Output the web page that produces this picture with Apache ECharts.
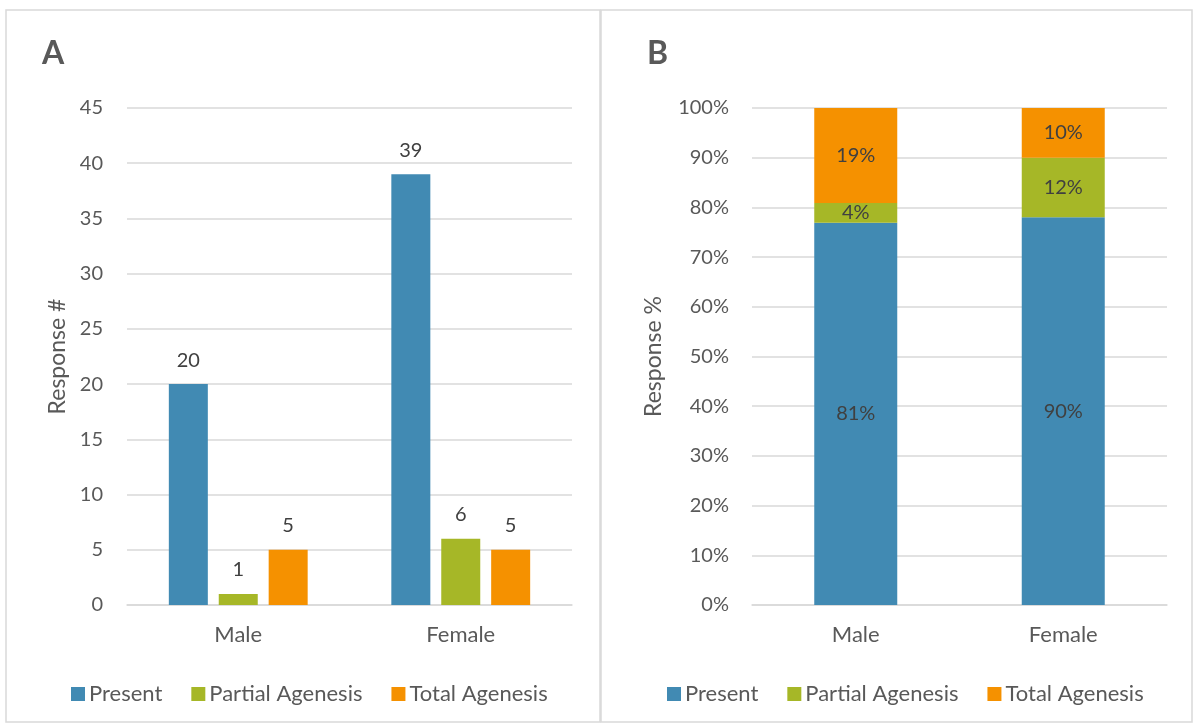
<!DOCTYPE html>
<html><head><meta charset="utf-8">
<script src="https://cdn.jsdelivr.net/npm/echarts@6/dist/echarts.min.js"></script>
<style>html,body{margin:0;padding:0;background:#fff}#c{width:1195px;height:726px}</style>
</head><body><div id="c"></div>
<script>
const categories = ['Male', 'Female'];
const seriesNames = ['Present', 'Partial Agenesis', 'Total Agenesis'];
const countPresent = [20, 39];
const countPartial = [1, 6];
const countTotal = [5, 5];
const pctPresent = [76.9, 78];
const pctPartial = [4.0, 12];
const pctTotal = [19.1, 10];
const pctLabelPresent = ['81%', '90%'];
const pctLabelPartial = ['4%', '12%'];
const pctLabelTotal = ['19%', '10%'];
const colors = ['#418AB3', '#A6B727', '#F59100'];
const FONT = 'Lato';
const TXT = '#595959';

const chart = echarts.init(document.getElementById('c'));
const axisLbl = {color: TXT, fontFamily: FONT, fontSize: 20};
function xAx(gi){return {type:'category', gridIndex:gi, data:categories,
  axisLine:{lineStyle:{color:'#D9D9D9', width:1.5}}, axisTick:{show:false},
  axisLabel:{margin:19, fontSize:22, color:TXT, fontFamily:FONT}};}
const countArr = [countPresent, countPartial, countTotal];
const pctArr = [pctPresent, pctPartial, pctTotal];
const pctLbl = [pctLabelPresent, pctLabelPartial, pctLabelTotal];
const series = [];
seriesNames.forEach((n,i)=>{
  series.push({name:n, type:'bar', xAxisIndex:0, yAxisIndex:0, data:countArr[i],
    barWidth:39, barGap:'28%', itemStyle:{color:colors[i]},
    label:{show:true, position:'top', distance:14, color:'#404040', fontFamily:FONT, fontSize:20}});
});
seriesNames.forEach((n,i)=>{
  series.push({name:n, type:'bar', xAxisIndex:1, yAxisIndex:1, data:pctArr[i], stack:'p',
    barWidth:83, itemStyle:{color:colors[i]},
    label:{show:true, position:'inside', color:'#404040', fontFamily:FONT, fontSize:20,
      formatter:p=>pctLbl[i][p.dataIndex]}});
});
const legendBase = {itemWidth:14, itemHeight:14, itemGap:29, icon:'rect', data:seriesNames,
  textStyle:{color:TXT, fontFamily:FONT, fontSize:22, padding:[0,0,0,-1]}, selectedMode:false};
chart.setOption({
  animation:false,
  textStyle:{fontFamily:FONT},
  title:[
    {text:'A', left:37, top:33, textStyle:{fontFamily:FONT, fontSize:32, fontWeight:'bold', color:TXT}},
    {text:'B', left:642, top:33, textStyle:{fontFamily:FONT, fontSize:32, fontWeight:'bold', color:TXT}}
  ],
  graphic:[
    {type:'rect', shape:{x:6, y:10, width:594, height:712}, style:{fill:'none', stroke:'#D9D9D9', lineWidth:1.5}},
    {type:'rect', shape:{x:601, y:10, width:591, height:712}, style:{fill:'none', stroke:'#D9D9D9', lineWidth:1.5}}
  ],
  legend:[
    Object.assign({left:66, top:678}, legendBase),
    Object.assign({left:662, top:678}, legendBase)
  ],
  grid:[
    {left:127, right:623, top:108, bottom:121},
    {left:752, right:28, top:108, bottom:121}
  ],
  xAxis:[xAx(0), xAx(1)],
  yAxis:[
    {type:'value', gridIndex:0, min:0, max:45, interval:5,
     name:'Response #', nameLocation:'middle', nameGap:58, nameTextStyle:{color:TXT, fontFamily:FONT, fontSize:23},
     axisLabel:Object.assign({margin:24}, axisLbl), splitLine:{lineStyle:{color:'#D9D9D9', width:1.5}}},
    {type:'value', gridIndex:1, min:0, max:100, interval:10,
     name:'Response %', nameLocation:'middle', nameGap:87, nameTextStyle:{color:TXT, fontFamily:FONT, fontSize:23},
     axisLabel:Object.assign({margin:23, formatter:'{value}%'}, axisLbl), splitLine:{lineStyle:{color:'#D9D9D9', width:1.5}}}
  ],
  series:series
});
</script></body></html>
